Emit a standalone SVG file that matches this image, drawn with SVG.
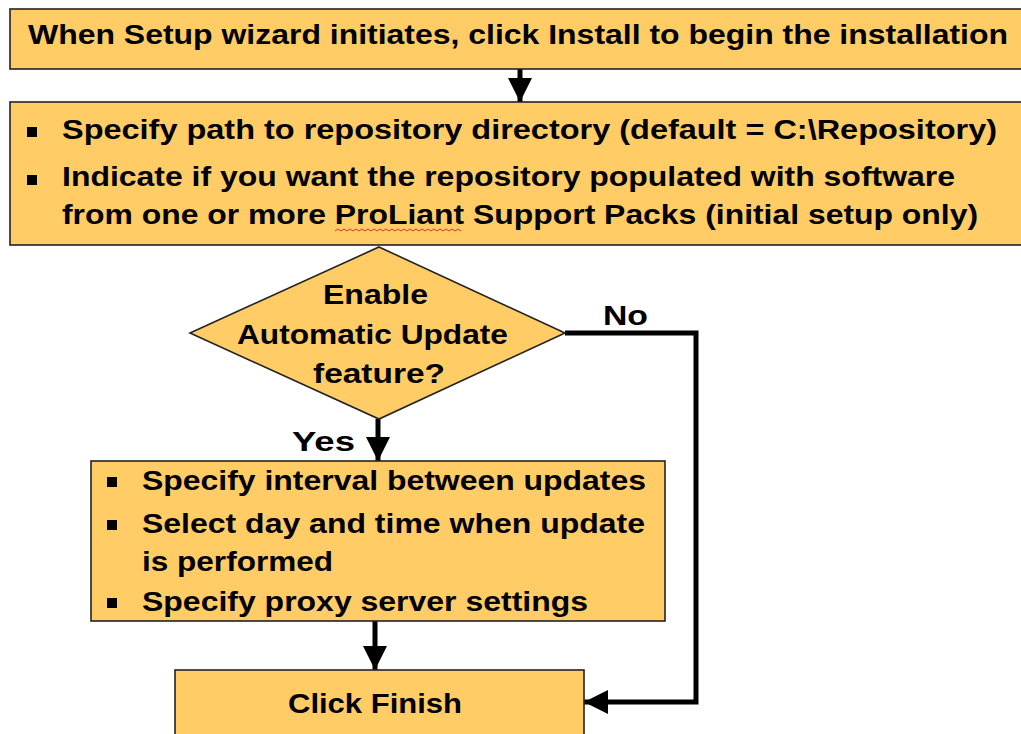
<svg xmlns="http://www.w3.org/2000/svg" width="1021" height="734" viewBox="0 0 1021 734">
<style>
.box{fill:#FFCC66;stroke:#222;stroke-width:1.6}
.t{font-family:"Liberation Sans",Arial,sans-serif;font-weight:bold;font-size:27px;fill:#000}
.c{stroke:#000;stroke-width:5;fill:none}
.bul{fill:#000}
</style>
<defs>
<marker id="ah" viewBox="0 0 10 10" refX="10" refY="5" markerWidth="5.2" markerHeight="4.8" orient="auto" markerUnits="strokeWidth">
<path d="M0,0 L10,5 L0,10 Z" fill="#000"/>
</marker>
</defs>
<g id="connectors">
<line class="c" x1="520" y1="69" x2="520" y2="102" marker-end="url(#ah)"/>
<line class="c" x1="378" y1="419" x2="378" y2="461" marker-end="url(#ah)"/>
<line class="c" x1="375" y1="621" x2="375" y2="670" marker-end="url(#ah)"/>
<polyline class="c" points="565,333 696,333 696,702 584,702" marker-end="url(#ah)"/>
<text class="t" x="603" y="325" textLength="45" lengthAdjust="spacingAndGlyphs">No</text>
<text class="t" x="292" y="451" textLength="63" lengthAdjust="spacingAndGlyphs">Yes</text>
</g>
<g id="start">
<rect class="box" x="10" y="9" width="1020" height="60"/>
<text class="t" x="28" y="44" textLength="980" lengthAdjust="spacingAndGlyphs">When Setup wizard initiates, click Install to begin the installation</text>
</g>
<g id="repository">
<rect class="box" x="10" y="102" width="1020" height="143"/>
<rect class="bul" x="27" y="127" width="10" height="10"/>
<text class="t" x="62" y="139" textLength="935" lengthAdjust="spacingAndGlyphs">Specify path to repository directory (default = C:\Repository)</text>
<rect class="bul" x="27" y="175" width="10" height="10"/>
<text class="t" x="62" y="186" textLength="893" lengthAdjust="spacingAndGlyphs">Indicate if you want the repository populated with software</text>
<text class="t" x="62" y="224" textLength="916" lengthAdjust="spacingAndGlyphs">from one or more ProLiant Support Packs (initial setup only)</text>
<path d="M335,231 l3,-2 l3,2 l3,-2 l3,2 l3,-2 l3,2 l3,-2 l3,2 l3,-2 l3,2 l3,-2 l3,2 l3,-2 l3,2 l3,-2 l3,2 l3,-2 l3,2 l3,-2 l3,2 l3,-2 l3,2 l3,-2 l3,2 l3,-2 l3,2 l3,-2 l3,2 l3,-2 l3,2 l3,-2 l3,2 l3,-2 l3,2 l3,-2 l3,2 l3,-2 l3,2 l3,-2 l3,2 l3,-2 l3,2" fill="none" stroke="#e03030" stroke-width="1"/>
</g>
<g id="decision">
<polygon class="box" points="379,247 565,333 379,419 190,333"/>
<text class="t" x="323" y="304" textLength="105" lengthAdjust="spacingAndGlyphs">Enable</text>
<text class="t" x="237" y="344" textLength="271" lengthAdjust="spacingAndGlyphs">Automatic Update</text>
<text class="t" x="313" y="383" textLength="132" lengthAdjust="spacingAndGlyphs">feature?</text>
</g>
<g id="settings">
<rect class="box" x="91" y="461" width="574" height="160"/>
<rect class="bul" x="107" y="477" width="10" height="10"/>
<text class="t" x="142" y="490" textLength="504" lengthAdjust="spacingAndGlyphs">Specify interval between updates</text>
<rect class="bul" x="107" y="520" width="10" height="10"/>
<text class="t" x="142" y="533" textLength="503" lengthAdjust="spacingAndGlyphs">Select day and time when update</text>
<text class="t" x="142" y="571" textLength="191" lengthAdjust="spacingAndGlyphs">is performed</text>
<rect class="bul" x="107" y="598" width="10" height="10"/>
<text class="t" x="142" y="611" textLength="446" lengthAdjust="spacingAndGlyphs">Specify proxy server settings</text>
</g>
<g id="finish">
<rect class="box" x="175" y="670" width="409" height="80"/>
<text class="t" x="288" y="713" textLength="174" lengthAdjust="spacingAndGlyphs">Click Finish</text>
</g>
</svg>
